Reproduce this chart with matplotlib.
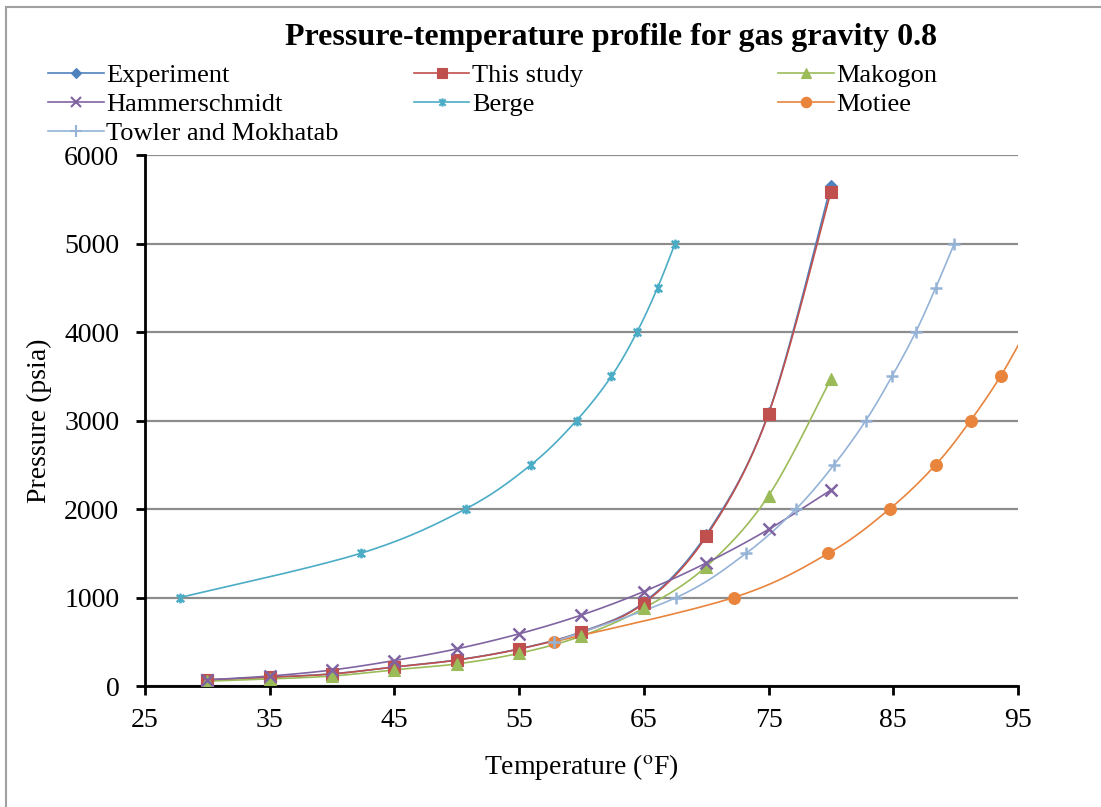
#!/usr/bin/env python3
import numpy as np
import matplotlib
matplotlib.use('Agg')
import matplotlib.pyplot as plt
from matplotlib.path import Path
from matplotlib.patches import Rectangle

plt.rcParams['font.family'] = ['Liberation Serif', 'DejaVu Serif']
plt.rcParams['mathtext.fontset'] = 'stix'

# Data
temp_std = [30, 35, 40, 45, 50, 55, 60, 65, 70, 75, 80]
experiment = [70, 100, 138, 215, 295, 420, 612, 945, 1710, 3085, 5655]
this_study = [68, 98, 136, 215, 293, 418, 608, 935, 1690, 3075, 5585]
makogon = [55, 80, 113, 183, 250, 370, 565, 880, 1350, 2150, 3470]
hammerschmidt = [70, 113, 181, 288, 420, 590, 802, 1068, 1390, 1770, 2215]

berge_t = [27.8, 42.3, 50.7, 55.95, 59.6, 62.4, 64.45, 66.1, 67.5]
berge_p = [1000, 1500, 2000, 2500, 3000, 3500, 4000, 4500, 5000]

motiee_t = [57.8, 72.2, 79.8, 84.7, 88.4, 91.2, 93.6, 95.6]
motiee_p = [500, 1000, 1500, 2000, 2500, 3000, 3500, 4000]

towler_t = [57.8, 67.6, 73.2, 77.2, 80.25, 82.8, 84.9, 86.8, 88.4, 89.9]
towler_p = [500, 1000, 1500, 2000, 2500, 3000, 3500, 4000, 4500, 5000]


# Excel-style smoothed line (Bezier through the points)
def smooth(x, y, n=30):
    pts = np.column_stack([x, y]).astype(float)
    ext = np.vstack([pts[0], pts, pts[-1]])
    out = []
    for i in range(len(pts) - 1):
        p0, p1, p2, p3 = ext[i], ext[i + 1], ext[i + 2], ext[i + 3]
        c1 = p1 + (p2 - p0) / 6.0
        c2 = p2 - (p3 - p1) / 6.0
        t = np.linspace(0, 1, n)[:, None]
        seg = ((1 - t) ** 3) * p1 + 3 * ((1 - t) ** 2) * t * c1 + 3 * (1 - t) * t ** 2 * c2 + t ** 3 * p2
        out.append(seg)
    out = np.vstack(out)
    return out[:, 0], out[:, 1]


star = Path([(-1, -1), (1, 1), (-1, 1), (1, -1), (0, -1.3), (0, 1.3)],
            [Path.MOVETO, Path.LINETO, Path.MOVETO, Path.LINETO, Path.MOVETO, Path.LINETO])

series = [
    ('Experiment', temp_std, experiment, '#4F81BD', 'D', 6.5),
    ('This study', temp_std, this_study, '#C0504D', 's', 8.5),
    ('Makogon', temp_std, makogon, '#9BBB59', '^', 8.5),
    ('Hammerschmidt', temp_std, hammerschmidt, '#8064A2', 'x', 8.5),
    ('Berge', berge_t, berge_p, '#4BACC6', star, 7),
    ('Motiee', motiee_t, motiee_p, '#E8843C', 'o', 8.5),
    ('Towler and Mokhatab', towler_t, towler_p, '#95B3D7', '+', 9),
]

fig = plt.figure(figsize=(11.01, 8.07), dpi=100)
fig.patches.append(Rectangle((0.005, -0.1), 1.2, 1.091, transform=fig.transFigure,
                             fill=False, edgecolor='#A0A0A0', linewidth=1.5))
ax = fig.add_axes([0.1317, 0.1499, 0.7929, 0.658])

handles = []
for name, xs, ys, col, mk, ms in series:
    thin = mk in ('x', '+') or mk is star
    sx, sy = smooth(xs, ys)
    ax.plot(sx, sy, color=col, linewidth=1.2, zorder=3)
    ax.plot(xs, ys, linestyle='none', marker=mk, markersize=ms, color=col,
            markeredgewidth=1.8 if thin else 0.8, zorder=4)
    h, = ax.plot([], [], color=col, linewidth=1.2, marker=mk,
                 markersize=ms - 1, markeredgewidth=1.5 if thin else 0.8)
    handles.append(h)

ax.set_xlim(25, 95)
ax.set_ylim(0, 6000)
ax.set_xticks(range(25, 96, 10))
ax.set_yticks(range(0, 6001, 1000))
ax.yaxis.grid(True, color='#8C8C8C', linewidth=1.6)
ax.set_axisbelow(True)
for s in ['top', 'right']:
    ax.spines[s].set_visible(False)
for s in ['left', 'bottom']:
    ax.spines[s].set_linewidth(2)
ax.tick_params(axis='both', direction='out', length=6.5, width=2, labelsize=20)
ax.tick_params(axis='x', pad=9)
ax.tick_params(axis='y', pad=12)

ax.set_xlabel(r'Temperature ($^{\mathrm{o}}$F)', fontsize=20, labelpad=14)
ax.set_ylabel('Pressure (psia)', fontsize=20, labelpad=9)

fig.text(0.555, 0.954, 'Pressure-temperature profile for gas gravity 0.8',
         ha='center', va='center', fontsize=23, fontweight='bold')

# three legend columns, filled row by row like the original
col_x = [0.044, 0.376, 0.707]
for c in range(3):
    idx = list(range(c, len(series), 3))
    leg = fig.legend([handles[i] for i in idx], [series[i][0] for i in idx],
                     loc='upper left', bbox_to_anchor=(col_x[c], 0.921),
                     frameon=False, fontsize=19, handlelength=2.1,
                     handletextpad=0.1, labelspacing=0.21,
                     borderpad=0, borderaxespad=0)

plt.savefig('out.png', dpi=100)
